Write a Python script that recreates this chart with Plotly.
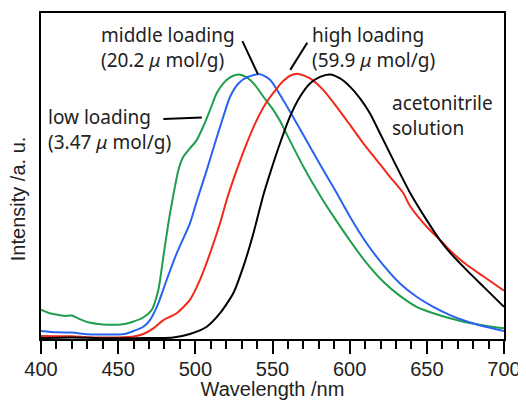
import plotly.graph_objects as go

# Low loading (3.47 umol/g) - green
low_x = [400, 405, 410, 415, 420, 425, 430, 440, 450, 455, 460, 466, 471.7, 476, 479.3, 482.5, 485.7, 489, 492.2, 496.5, 500.9, 505.2, 509.5, 513.8, 518.1, 522.5, 527.9, 533.3, 538.7, 544.1, 549.5, 554.9, 559.2, 570, 580.8, 589.4, 600.2, 611, 621.8, 632.6, 643.4, 654.2, 665, 676, 688, 700]
low_y = [0.11, 0.098, 0.092, 0.087, 0.088, 0.075, 0.064, 0.055, 0.054, 0.057, 0.066, 0.08, 0.109, 0.184, 0.31, 0.435, 0.54, 0.635, 0.685, 0.717, 0.748, 0.80, 0.861, 0.924, 0.961, 0.984, 0.995, 0.984, 0.955, 0.911, 0.87, 0.82, 0.77, 0.648, 0.54, 0.462, 0.37, 0.285, 0.215, 0.162, 0.121, 0.097, 0.078, 0.062, 0.05, 0.04]

# Middle loading (20.2 umol/g) - blue
mid_x = [400, 410, 420, 430, 440, 450, 455, 460, 466.3, 470.6, 476, 481.4, 487.9, 496.5, 501, 507.4, 512.7, 518.1, 522.5, 527.9, 533.3, 541.9, 548.4, 557, 565.7, 574.3, 583, 590.5, 600.2, 611, 621.8, 632.6, 643.4, 654.2, 665, 676, 688, 700]
mid_y = [0.03, 0.025, 0.024, 0.018, 0.017, 0.017, 0.02, 0.03, 0.046, 0.071, 0.134, 0.222, 0.322, 0.435, 0.52, 0.635, 0.736, 0.836, 0.911, 0.961, 0.984, 0.996, 0.975, 0.898, 0.811, 0.723, 0.635, 0.56, 0.46, 0.36, 0.278, 0.209, 0.159, 0.121, 0.09, 0.066, 0.046, 0.03]

# High loading (59.9 umol/g) - red
high_x = [400, 410, 420, 430, 440, 450, 460, 466.3, 472.8, 479.3, 487.9, 496.5, 503, 509.5, 516, 520.3, 526.8, 533.3, 539.8, 546.3, 552.7, 557, 561.3, 566.7, 574.3, 583, 591.6, 600.2, 608.8, 617.5, 626.1, 634.8, 639.1, 649.9, 660.7, 665, 676, 687, 700]
high_y = [0.011, 0.01, 0.01, 0.007, 0.006, 0.006, 0.009, 0.019, 0.04, 0.071, 0.097, 0.147, 0.222, 0.322, 0.435, 0.523, 0.635, 0.736, 0.823, 0.892, 0.942, 0.97, 0.99, 0.997, 0.98, 0.936, 0.873, 0.805, 0.736, 0.673, 0.61, 0.548, 0.5, 0.422, 0.36, 0.333, 0.278, 0.234, 0.182]

# Acetonitrile solution - black
acn_x = [400, 420, 440, 460, 475, 485.7, 496.5, 507.4, 516, 524.6, 531.1, 537.6, 544, 548.4, 554.9, 561.3, 567.8, 574.3, 580.8, 587.3, 593.8, 600.2, 606.7, 613.2, 619.7, 626.1, 632.6, 639.1, 649.9, 658.5, 665, 676, 687, 700]
acn_y = [0.004, 0.006, 0.003, 0.003, 0.004, 0.006, 0.019, 0.046, 0.097, 0.172, 0.272, 0.397, 0.54, 0.623, 0.736, 0.836, 0.911, 0.961, 0.986, 0.995, 0.98, 0.949, 0.905, 0.848, 0.773, 0.698, 0.623, 0.55, 0.447, 0.372, 0.325, 0.258, 0.195, 0.121]

x_ticks = [400, 450, 500, 550, 600, 650, 700]

AX_FONT = "Liberation Sans, Arial, sans-serif"
LBL_FONT = "Noto Sans, sans-serif"

fig = go.Figure()
for xs, ys, col in [(low_x, low_y, "#1f9e4b"), (mid_x, mid_y, "#2a62f0"),
                    (high_x, high_y, "#f2291a"), (acn_x, acn_y, "#000000")]:
    fig.add_trace(go.Scatter(x=xs, y=ys, mode="lines", line=dict(color=col, width=2, shape="spline", smoothing=0.6),
                             showlegend=False, hoverinfo="skip"))

# annotation leader lines
fig.add_trace(go.Scatter(x=[530.5, 540.6], y=[1.12, 0.995], mode="lines",
                         line=dict(color="black", width=2), showlegend=False, hoverinfo="skip"))
fig.add_trace(go.Scatter(x=[572.5, 561.5], y=[1.114, 1.012], mode="lines",
                         line=dict(color="black", width=2), showlegend=False, hoverinfo="skip"))
fig.add_trace(go.Scatter(x=[479.3, 504.2], y=[0.827, 0.833], mode="lines",
                         line=dict(color="black", width=2), showlegend=False, hoverinfo="skip"))

def ann(x, y, text):
    fig.add_annotation(x=x, y=y, xref="x", yref="y", text=text, showarrow=False,
                       xanchor="left", yanchor="middle", align="left",
                       font=dict(family=LBL_FONT, size=19, color="#222"))

ann(437.6, 1.098, "middle loading<br>(20.2 <i>μ</i> mol/g)")
ann(574.5, 1.098, "high loading<br>(59.9 <i>μ</i> mol/g)")
ann(403, 0.788, "low loading<br>(3.47 <i>μ</i> mol/g)")
ann(626.4, 0.841, "acetonitrile<br>solution")

# y-axis title placed as rotated text (matches reference's offset position)
fig.add_annotation(x=-0.051, y=0.43, xref="paper", yref="paper", text="Intensity /a. u.",
                   textangle=-90, showarrow=False, xanchor="center", yanchor="middle",
                   font=dict(family=AX_FONT, size=20, color="#222"))

fig.update_layout(
    width=518, height=392,
    margin=dict(l=33, r=22, t=5, b=61),
    plot_bgcolor="white", paper_bgcolor="white",
    font=dict(family=AX_FONT, size=20, color="#222"),
)
fig.update_xaxes(range=[400, 700], tickvals=x_ticks, ticks="outside", ticklen=13, tickwidth=2,
                 tickcolor="black", showline=True, linecolor="black", linewidth=2, mirror=True,
                 showgrid=False, zeroline=False, automargin=False, ticklabelstandoff=-2,
                 minor=dict(dtick=10, ticks="outside", ticklen=8, tickwidth=2, tickcolor="black"),
                 tickfont=dict(family=AX_FONT, size=20, color="#222"),
                 title=dict(text="Wavelength /nm", standoff=3, font=dict(family=AX_FONT, size=20, color="#222")))
fig.update_yaxes(range=[0, 1.226], showticklabels=False, ticks="", showline=True, linecolor="black",
                 linewidth=2, mirror=True, showgrid=False, zeroline=False, automargin=False)

fig.write_html("out.html")
